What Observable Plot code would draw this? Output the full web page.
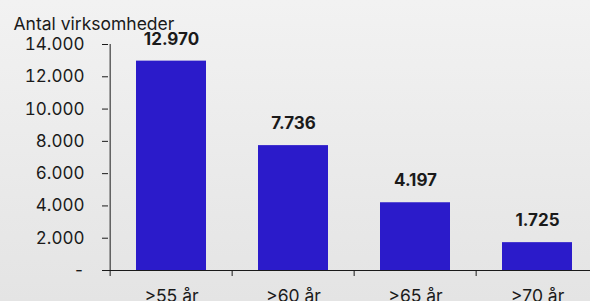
<!DOCTYPE html>
<html>
<head>
<meta charset="utf-8">
<script src="https://cdn.jsdelivr.net/npm/d3@7"></script>
<script src="https://cdn.jsdelivr.net/npm/@observablehq/plot@0.6"></script>
<style>
  html, body { margin: 0; padding: 0; }
  body { width: 590px; height: 301px; overflow: hidden;
         background: linear-gradient(to bottom, #f2f2f2 0%, #e4e4e4 100%); }
  svg { background: transparent !important; }
</style>
</head>
<body>
<div id="chart"></div>
<script>
const categories = [">55 år", ">60 år", ">65 år", ">70 år"];
const values = [12970, 7736, 4197, 1725];
const yTicks = [0, 2000, 4000, 6000, 8000, 10000, 12000, 14000];
const title = "Antal virksomheder";

const data = categories.map((c, i) => ({cat: c, value: values[i]}));
const fmt = d => d === 0 ? "-" : d3.format(",")(d).replace(/,/g, ".");

const xRange = [108, 598.8];
const step = (xRange[1] - xRange[0]) / categories.length;
const font = "Inter, 'Liberation Sans', sans-serif";
const ink = "#1a1a1a";

const chart = Plot.plot({
  width: 590,
  height: 301,
  marginLeft: 108,
  marginRight: 0,
  marginTop: 44,
  marginBottom: 31,
  style: {fontFamily: font, fontSize: "17px", color: ink, background: "transparent", overflow: "visible"},
  x: {domain: categories, range: xRange, paddingInner: 0.43, paddingOuter: 0.215, label: null},
  y: {domain: [0, 14000], label: null},
  marks: [
    Plot.barY(data, {x: "cat", y: "value", fill: "#2b1bca"}),
    Plot.axisY({ticks: yTicks, tickSize: 6, tickPadding: 18, tickFormat: fmt, fontSize: 17, label: null, stroke: ink, fill: ink}),
    Plot.ruleX([categories[0]], {y1: 0, y2: 14000, dx: -step / 2, stroke: ink, strokeWidth: 1}),
    Plot.ruleY([0], {stroke: ink, strokeWidth: 1}),
    Plot.axisX({tickSize: 6, tickFormat: () => "", dx: -step / 2, label: null, stroke: ink}),
    Plot.axisX({tickSize: 0, tickPadding: 19, fontSize: 17.5, label: null, fill: ink}),
    Plot.text(data, {x: "cat", y: "value", text: d => fmt(d.value), dy: -22, lineAnchor: "middle", fontWeight: "bold", fontSize: 17, fill: ink}),
    Plot.text([title], {frameAnchor: "top-left", dx: 13 - 108, dy: -20, textAnchor: "start", lineAnchor: "middle", fontSize: 17.5, fill: ink})
  ]
});
document.getElementById("chart").appendChild(chart);
</script>
</body>
</html>
